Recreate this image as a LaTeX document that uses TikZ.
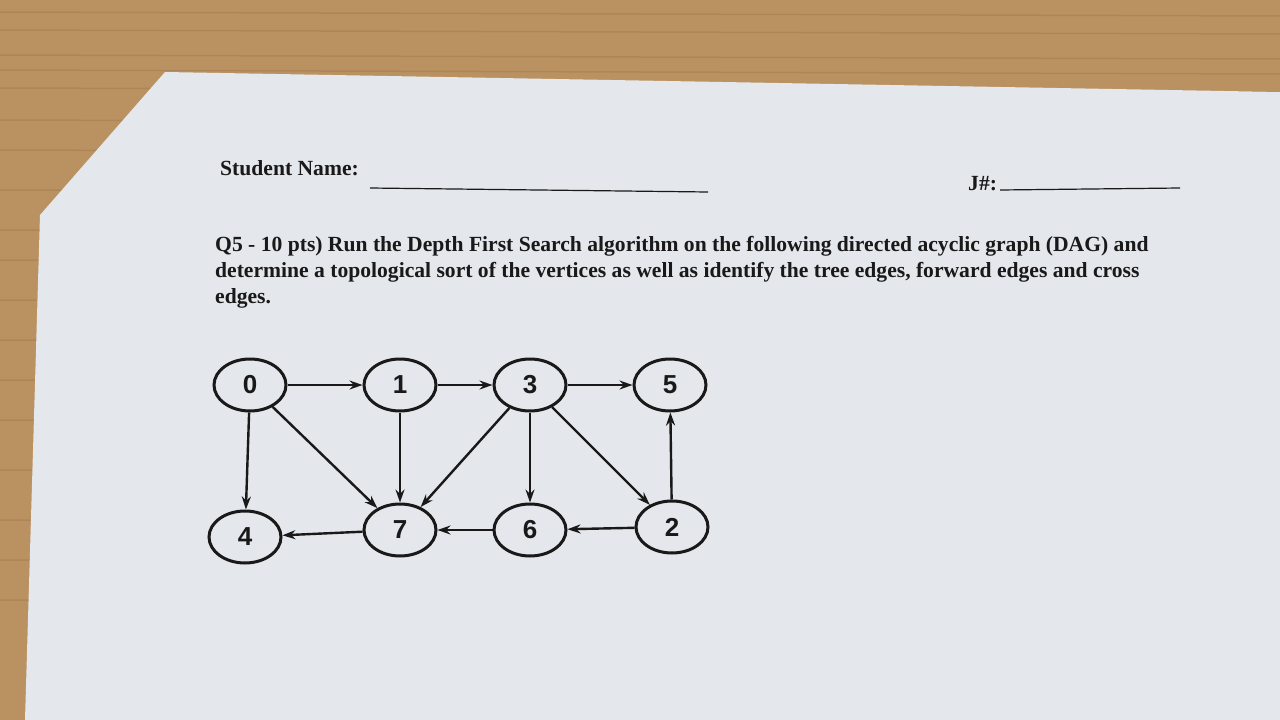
\documentclass[tikz,border=0pt]{standalone}
\usepackage{fontspec}
\setmainfont{Liberation Serif}
\newfontfamily\nodefont{Liberation Sans}
\usetikzlibrary{arrows.meta,shapes.geometric}
\definecolor{wood}{RGB}{186,146,98}
\definecolor{wooddark}{RGB}{150,110,70}
\definecolor{paper}{RGB}{228,231,235}
\definecolor{ink}{RGB}{25,25,25}
\tikzset{
  vert/.style={draw=ink,line width=3pt,ellipse,minimum width=72pt,minimum height=52pt,inner sep=0pt,font=\nodefont\bfseries\fontsize{26}{26}\selectfont,text=ink},
  edge/.style={draw=ink,line width=2.4pt,-{Stealth[length=13pt,width=9pt]}},
  qtext/.style={anchor=west,font=\bfseries\fontsize{21.6}{21.6}\selectfont,text=ink,inner sep=0pt}
}
\begin{document}
\begin{tikzpicture}[x=1pt,y=-1pt]
\useasboundingbox (0,0) rectangle (1280,720);
\fill[wood] (0,0) rectangle (1280,720);
\foreach \yy in {12,30,55,70,88,120,150,190,230,260,300,340,380,420,470,520,560,600} {
  \draw[wooddark,opacity=0.35,line width=1.5pt] (0,\yy) -- (1280,\yy+4);
}
\fill[paper] (165,72) -- (1280,92) -- (1280,720) -- (25,720) -- (40,215) -- cycle;
\node[qtext] (sn) at (220,168) {Student Name:};
\coordinate (l1a) at (370,188); \coordinate (l1b) at (708,192);
\draw[ink,line width=1.2pt] (l1a) -- (l1b);
\node[qtext] (jn) at (968,184) {J\#:};
\coordinate (l2a) at (1000,190); \coordinate (l2b) at (1180,188);
\draw[ink,line width=1.2pt] (l2a) -- (l2b);
\node[qtext] (q1) at (215,246) {Q5 - 10 pts) Run the Depth First Search algorithm on the following directed acyclic graph (DAG) and};
\node[qtext] (q2) at (215,272) {determine a topological sort of the vertices as well as identify the tree edges, forward edges and cross};
\node[qtext] (q3) at (215,298) {edges.};
\node[vert] (n0) at (250,385) {0};
\node[vert] (n1) at (400,385) {1};
\node[vert] (n3) at (530,385) {3};
\node[vert] (n5) at (670,385) {5};
\node[vert] (n4) at (245,537) {4};
\node[vert] (n7) at (400,530) {7};
\node[vert] (n6) at (530,530) {6};
\node[vert] (n2) at (672,527) {2};
\draw[edge] (n0) -- (n1);
\draw[edge] (n1) -- (n3);
\draw[edge] (n3) -- (n5);
\draw[edge] (n0) -- (n4);
\draw[edge] (n0) -- (n7);
\draw[edge] (n1) -- (n7);
\draw[edge] (n3) -- (n7);
\draw[edge] (n3) -- (n6);
\draw[edge] (n3) -- (n2);
\draw[edge] (n2) -- (n5);
\draw[edge] (n7) -- (n4);
\draw[edge] (n6) -- (n7);
\draw[edge] (n2) -- (n6);
\end{tikzpicture}
\end{document}
